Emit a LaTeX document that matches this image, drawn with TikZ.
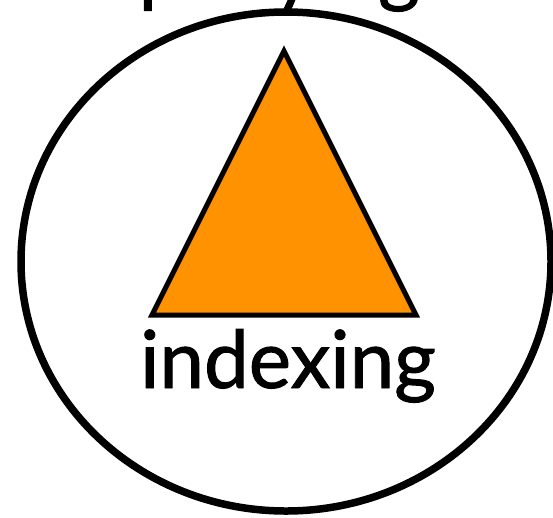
\documentclass[tikz,border=0pt]{standalone}
\usepackage{fontspec}
\setmainfont{Lato}
\newfontfamily\heavy{Lato}[FakeBold=1.2]
\definecolor{tri}{RGB}{255,146,0}
\tikzset{
  bigtext/.style={font=\heavy\fontsize{80}{80}\selectfont, anchor=base, inner sep=0pt},
}
\begin{document}
\begin{tikzpicture}[x=1pt,y=-1pt]
\useasboundingbox (0,0) rectangle (553,517);
\clip (0,0) rectangle (553,517);
\node[bigtext] (qry) at (266,-3) {querying};
\draw[line width=7.5pt] (286,261.5) ellipse [x radius=265, y radius=249.5];
\draw[line width=5pt, fill=tri, line join=miter] (284,51) -- (416,315) -- (152,315) -- cycle;
\node[bigtext] (idx) at (288,388) {indexing};
\end{tikzpicture}
\end{document}
